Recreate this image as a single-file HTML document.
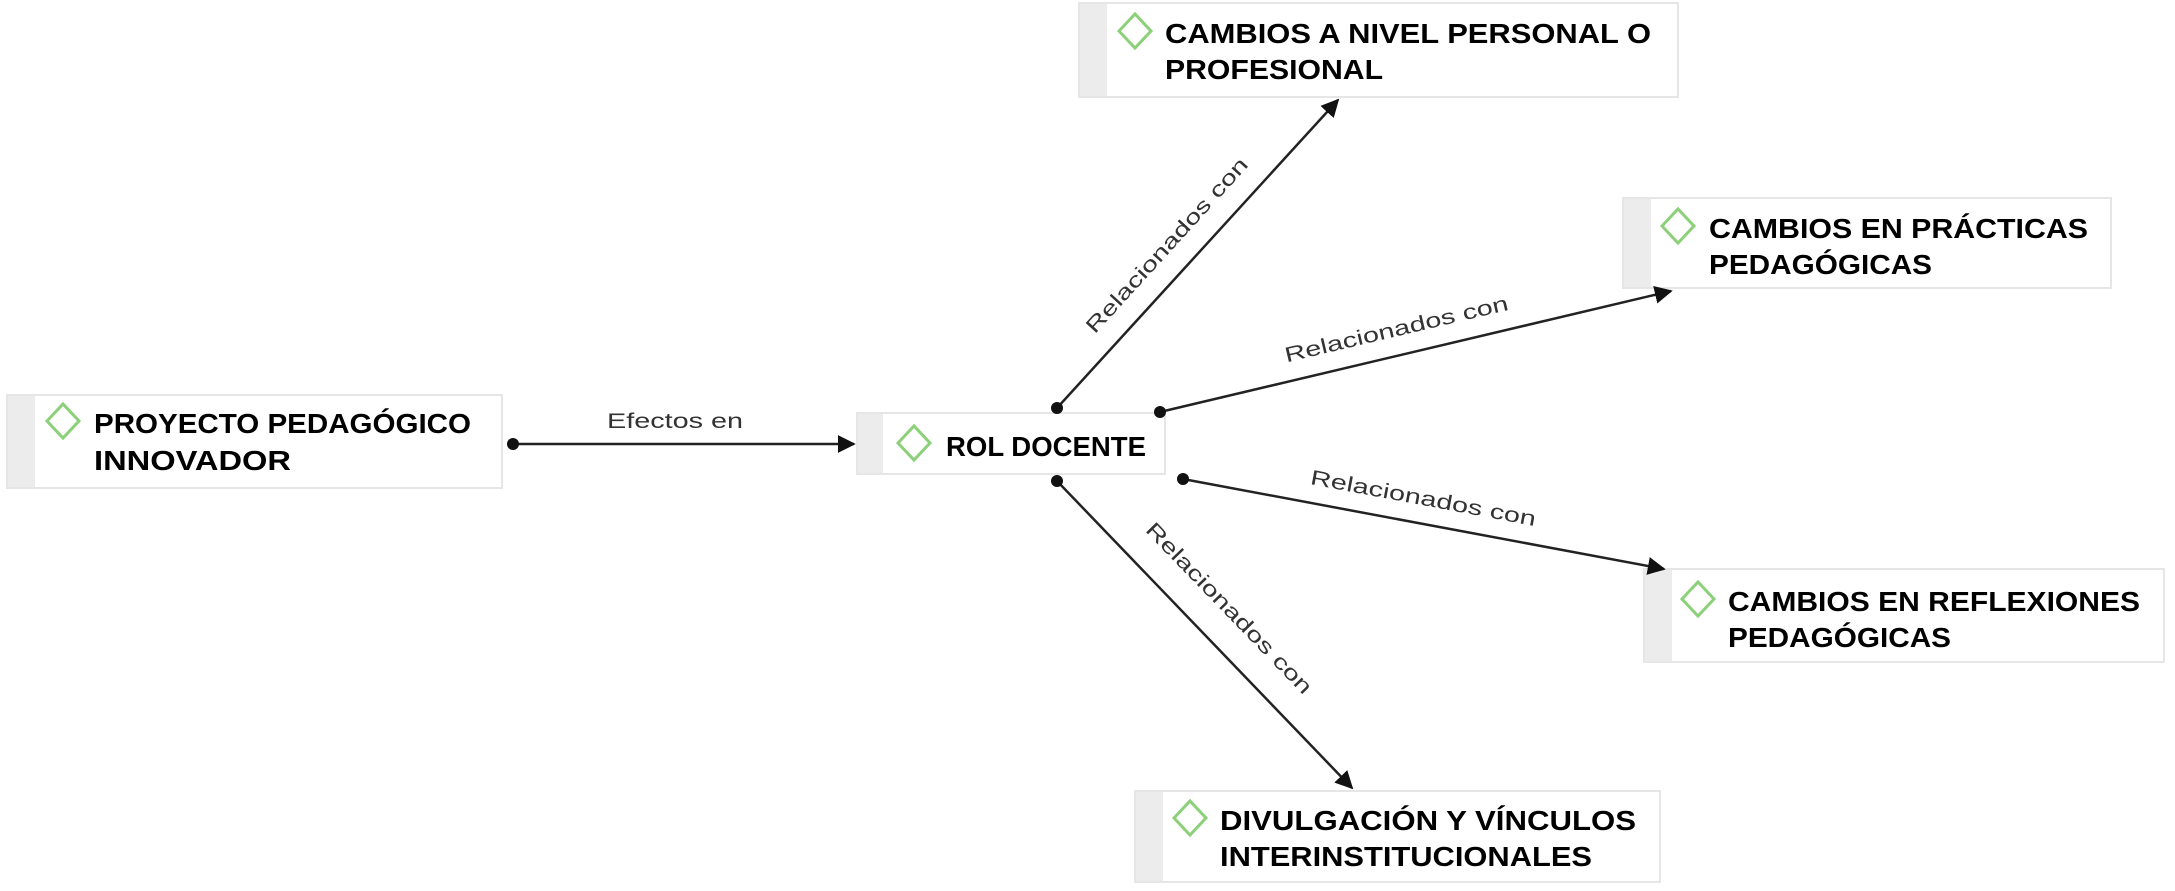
<!DOCTYPE html>
<html><head><meta charset="utf-8"><style>
html,body{margin:0;padding:0;background:#fff;}
svg{display:block;}
.t{font-family:"Liberation Sans",sans-serif;font-weight:bold;font-size:28px;fill:#000;}
.l{font-family:"Liberation Sans",sans-serif;font-size:21px;fill:#333;}
</style></head><body>
<svg width="2175" height="891" viewBox="0 0 2175 891" xmlns="http://www.w3.org/2000/svg">
<defs>
<marker id="a" viewBox="0 0 10 10" refX="10" refY="5" markerWidth="7" markerHeight="7" markerUnits="userSpaceOnUse" orient="auto"><path d="M0,0 L10,5 L0,10 z" fill="#111"/></marker>
<marker id="ah" viewBox="0 0 10 10" refX="9" refY="5" markerWidth="18" markerHeight="18" markerUnits="userSpaceOnUse" orient="auto"><path d="M0,0 L10,5 L0,10 z" fill="#111"/></marker>
</defs>
<g fill="#fff" stroke="#e6e6e6" stroke-width="2">
<rect x="7" y="395" width="495" height="93"/>
<rect x="857" y="413" width="308" height="61"/>
<rect x="1079" y="3" width="599" height="94"/>
<rect x="1623" y="198" width="488" height="90"/>
<rect x="1644" y="569" width="520" height="93"/>
<rect x="1135" y="791" width="525" height="91"/>
</g>
<g fill="#ececec">
<rect x="8" y="396" width="27" height="91"/>
<rect x="858" y="414" width="25" height="59"/>
<rect x="1080" y="4" width="27" height="92"/>
<rect x="1624" y="199" width="27" height="88"/>
<rect x="1645" y="570" width="27" height="91"/>
<rect x="1136" y="792" width="27" height="89"/>
</g>
<g fill="none" stroke="#8cd07a" stroke-width="3">
<path d="M47,421 l16,-17 l16,17 l-16,17 z"/>
<path d="M898,443 l16,-17 l16,17 l-16,17 z"/>
<path d="M1119,31 l16,-17 l16,17 l-16,17 z"/>
<path d="M1662,226 l16,-17 l16,17 l-16,17 z"/>
<path d="M1682,599 l16,-17 l16,17 l-16,17 z"/>
<path d="M1174,818 l16,-17 l16,17 l-16,17 z"/>
</g>
<g class="t">
<text x="94" y="433" textLength="377" lengthAdjust="spacingAndGlyphs">PROYECTO PEDAGÓGICO</text>
<text x="94" y="470" textLength="197" lengthAdjust="spacingAndGlyphs">INNOVADOR</text>
<text x="946" y="456" textLength="200" lengthAdjust="spacingAndGlyphs">ROL DOCENTE</text>
<text x="1165" y="43" textLength="486" lengthAdjust="spacingAndGlyphs">CAMBIOS A NIVEL PERSONAL O</text>
<text x="1165" y="79" textLength="218" lengthAdjust="spacingAndGlyphs">PROFESIONAL</text>
<text x="1709" y="238" textLength="379" lengthAdjust="spacingAndGlyphs">CAMBIOS EN PRÁCTICAS</text>
<text x="1709" y="274" textLength="223" lengthAdjust="spacingAndGlyphs">PEDAGÓGICAS</text>
<text x="1728" y="611" textLength="412" lengthAdjust="spacingAndGlyphs">CAMBIOS EN REFLEXIONES</text>
<text x="1728" y="647" textLength="223" lengthAdjust="spacingAndGlyphs">PEDAGÓGICAS</text>
<text x="1220" y="830" textLength="416" lengthAdjust="spacingAndGlyphs">DIVULGACIÓN Y VÍNCULOS</text>
<text x="1220" y="866" textLength="372" lengthAdjust="spacingAndGlyphs">INTERINSTITUCIONALES</text>
</g>
<g stroke="#222" stroke-width="2.5" fill="none" marker-end="url(#ah)">
<line x1="513" y1="444" x2="854" y2="444"/>
<line x1="1057" y1="408" x2="1338" y2="100"/>
<line x1="1160" y1="412" x2="1671" y2="291"/>
<line x1="1183" y1="479" x2="1664" y2="569"/>
<line x1="1057" y1="481" x2="1352" y2="788"/>
</g>
<g fill="#111">
<circle cx="513" cy="444" r="6"/>
<circle cx="1057" cy="408" r="6"/>
<circle cx="1160" cy="412" r="6"/>
<circle cx="1183" cy="479" r="6"/>
<circle cx="1057" cy="481" r="6"/>
</g>
<g class="l" text-anchor="middle">
<text x="675" y="428" textLength="136" lengthAdjust="spacingAndGlyphs">Efectos en</text>
<text transform="translate(1172,250) rotate(-47.6)" textLength="229" lengthAdjust="spacingAndGlyphs">Relacionados con</text>
<text transform="translate(1398,336) rotate(-13.3)" textLength="229" lengthAdjust="spacingAndGlyphs">Relacionados con</text>
<text transform="translate(1422,505) rotate(10.6)" textLength="229" lengthAdjust="spacingAndGlyphs">Relacionados con</text>
<text transform="translate(1224,613) rotate(46)" textLength="229" lengthAdjust="spacingAndGlyphs">Relacionados con</text>
</g>
</svg>
</body></html>
